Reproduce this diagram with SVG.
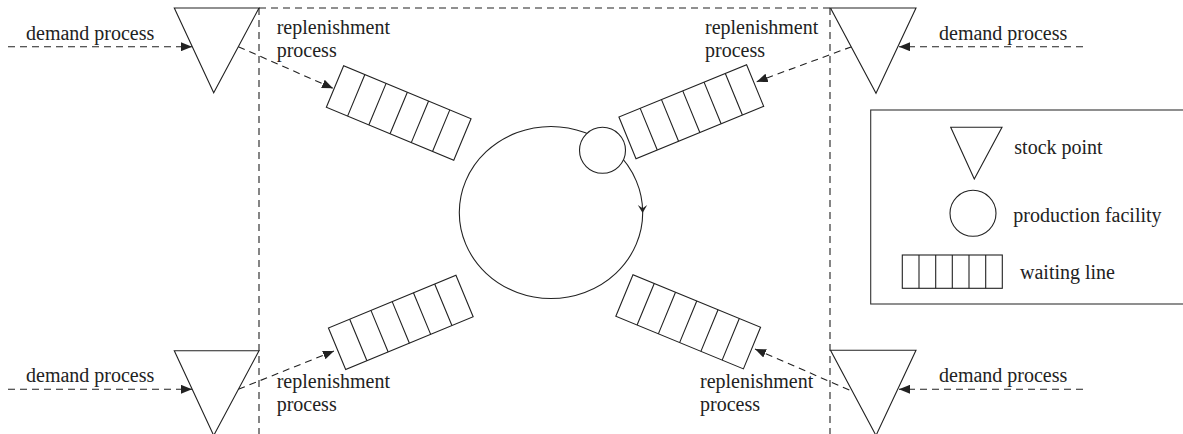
<svg xmlns="http://www.w3.org/2000/svg" width="1183" height="434" viewBox="0 0 1183 434">
<style>
.s{fill:#fff;stroke:#222;stroke-width:1.1}
.d{fill:none;stroke:#222;stroke-width:1.1;stroke-dasharray:7 5}
.t{font-family:"Liberation Serif","Times New Roman",serif;font-size:20px;fill:#222}
</style>
<defs>
<marker id="ah" markerWidth="11" markerHeight="9" refX="11" refY="4.5" orient="auto" markerUnits="userSpaceOnUse">
<path d="M0,0 L11,4.5 L0,9 z" fill="#222"/>
</marker>
<g id="wl">
<rect x="-69" y="-22.5" width="138" height="45" class="s"/>
<path d="M-46,-22.5V22.5M-23,-22.5V22.5M0,-22.5V22.5M23,-22.5V22.5M46,-22.5V22.5" fill="none" stroke="#222" stroke-width="1.1"/>
</g>
</defs>
<rect width="1183" height="434" fill="#fff"/>

<g id="connectors">
<path class="d" d="M259,8H830"/>
<path class="d" d="M259,8V434"/>
<path class="d" d="M830,8V434"/>
<path class="d" d="M8,46.7H192" marker-end="url(#ah)"/>
<path class="d" d="M8,389.3H192" marker-end="url(#ah)"/>
<path class="d" d="M1083,46.7H899" marker-end="url(#ah)"/>
<path class="d" d="M1083,389.3H899" marker-end="url(#ah)"/>
<path class="d" d="M238.3,46.7L333,88.3" marker-end="url(#ah)"/>
<path class="d" d="M851.7,46.7L756.7,81.7" marker-end="url(#ah)"/>
<path class="d" d="M238.3,389.3L334,351" marker-end="url(#ah)"/>
<path class="d" d="M849.3,390L755,349" marker-end="url(#ah)"/>
</g>

<g id="stock-top-left"><polygon class="s" points="174.3,8 259,8 213.7,92.7"/></g>
<g id="stock-top-right"><polygon class="s" points="830.5,8 916,8 876,93.3"/></g>
<g id="stock-bottom-left"><polygon class="s" points="174.3,350.7 259,350.7 213.7,435.5"/></g>
<g id="stock-bottom-right"><polygon class="s" points="830.5,350.3 916,350.3 876,435.5"/></g>

<g id="waiting-line-top-left"><use href="#wl" transform="translate(398.7,113) rotate(22.6)"/></g>
<g id="waiting-line-top-right"><use href="#wl" transform="translate(691.3,111.7) rotate(-22.3)"/></g>
<g id="waiting-line-bottom-left"><use href="#wl" transform="translate(400.8,322.4) rotate(-22.5)"/></g>
<g id="waiting-line-bottom-right"><use href="#wl" transform="translate(688.2,321.8) rotate(22.4)"/></g>

<g id="production-cycle">
<ellipse cx="551" cy="212.5" rx="91.7" ry="86" fill="none" stroke="#222" stroke-width="1.1"/>
<path d="M637.8,205 L642.6,208.2 L647.2,205 L642.6,213 z" fill="#222"/>
</g>
<g id="production-facility"><circle class="s" cx="602.5" cy="150.3" r="23"/></g>

<g id="labels">
<text class="t" x="26" y="39.5">demand process</text>
<text class="t" x="939" y="39.5">demand process</text>
<text class="t" x="26" y="382">demand process</text>
<text class="t" x="939" y="382">demand process</text>
<text class="t" x="276.7" y="34">replenishment</text>
<text class="t" x="276.7" y="57">process</text>
<text class="t" x="705" y="34">replenishment</text>
<text class="t" x="705" y="57">process</text>
<text class="t" x="276.7" y="388">replenishment</text>
<text class="t" x="276.7" y="411">process</text>
<text class="t" x="700" y="388">replenishment</text>
<text class="t" x="700" y="410.5">process</text>
</g>

<g id="legend">
<rect x="870.7" y="110" width="320" height="194" fill="none" stroke="#333" stroke-width="1.1"/>
<polygon class="s" points="950.7,127.3 1002,127.3 974.3,179"/>
<text class="t" x="1014.3" y="154">stock point</text>
<circle class="s" cx="973" cy="213.3" r="23"/>
<text class="t" x="1013.3" y="222">production facility</text>
<rect class="s" x="902.3" y="255" width="100" height="33.3"/>
<path d="M919,255V288.3M935.7,255V288.3M952.3,255V288.3M969,255V288.3M985.7,255V288.3" fill="none" stroke="#222" stroke-width="1.1"/>
<text class="t" x="1020" y="279.3">waiting line</text>
</g>
</svg>
